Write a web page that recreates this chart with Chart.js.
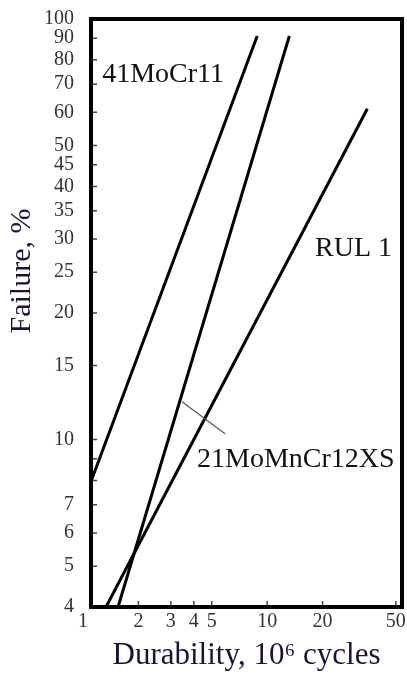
<!DOCTYPE html>
<html>
<head>
<meta charset="utf-8">
<script src="https://cdn.jsdelivr.net/npm/chart.js@4.4.1/dist/chart.umd.min.js"></script>
<style>
html, body { margin: 0; padding: 0; background: #fff; }
#wrap { width: 407px; height: 675px; }
</style>
</head>
<body>
<div id="wrap"><canvas id="myChart" width="407" height="675"></canvas></div>
<script>
// values (log-log paper)
const seriesNames = ['41MoCr11', '21MoMnCr12XS', 'RUL 1'];
const durability41 = [1.105, 8.83];
const failure41 = [7.95, 91.1];
const durability21 = [1.55, 13.2];
const failure21 = [4, 91.1];
const durabilityRul = [1.333, 35.0];
const failureRul = [4, 61.2];

// tick labels
const xTicks = [1, 2, 3, 4, 5, 10, 20, 50];
const yTicks = [4, 5, 6, 7, 8, 9, 10, 15, 20, 25, 30, 35, 40, 45, 50, 60, 70, 80, 90, 100];
const yLabeled = [4, 5, 6, 7, 10, 15, 20, 25, 30, 35, 40, 45, 50, 60, 70, 80, 90, 100];

// text on the plot, in data units
const labelTexts = ['41MoCr11', 'RUL 1', '21MoMnCr12XS'];
const labelX = [1.27, 18.2, 4.16];
const labelY = [73.6, 28.4, 8.97];
const leaderX = [3.45, 5.91];
const leaderY = [12.3, 10.33];

const serif = 'Liberation Serif, Times New Roman, serif';

function pts(xs, ys) {
    return xs.map((v, i) => ({x: v, y: ys[i]}));
}

const extrasPlugin = {
    id: 'extras',
    afterDraw(chart) {
        const ctx = chart.ctx;
        const a = chart.chartArea;
        const xs = chart.scales.x;
        const ys = chart.scales.y;
        ctx.save();
        // 内向きの目盛り
        ctx.strokeStyle = '#444';
        ctx.lineWidth = 1.5;
        ctx.beginPath();
        xs.ticks.forEach(t => {
            const px = xs.getPixelForValue(t.value);
            if (px < a.left + 3 || px > a.right - 3) return;
            ctx.moveTo(px, a.bottom);
            ctx.lineTo(px, a.bottom - 6);
        });
        ys.ticks.forEach(t => {
            const py = ys.getPixelForValue(t.value);
            if (py < a.top + 3 || py > a.bottom - 3) return;
            ctx.moveTo(a.left, py);
            ctx.lineTo(a.left + 6, py);
        });
        ctx.stroke();

        // leader line for 21MoMnCr12XS
        ctx.strokeStyle = '#555';
        ctx.lineWidth = 1.2;
        ctx.beginPath();
        ctx.moveTo(xs.getPixelForValue(leaderX[0]), ys.getPixelForValue(leaderY[0]));
        ctx.lineTo(xs.getPixelForValue(leaderX[1]), ys.getPixelForValue(leaderY[1]));
        ctx.stroke();

        // labels
        ctx.fillStyle = '#111';
        ctx.font = '28px ' + serif;
        ctx.textAlign = 'left';
        ctx.textBaseline = 'middle';
        labelTexts.forEach((s, i) => {
            ctx.fillText(s, xs.getPixelForValue(labelX[i]), ys.getPixelForValue(labelY[i]));
        });

        // y title
        ctx.save();
        ctx.translate(22, 271);
        ctx.rotate(-Math.PI / 2);
        ctx.font = '30px ' + serif;
        ctx.fillStyle = '#14143a';
        ctx.textAlign = 'center';
        ctx.fillText('Failure, %', 0, 0);
        ctx.restore();

        // frame
        ctx.strokeStyle = '#000';
        ctx.lineWidth = 4;
        ctx.strokeRect(a.left, a.top, a.right - a.left, a.bottom - a.top);
        ctx.restore();
    }
};

window.onload = function() {
    const ctx = document.getElementById('myChart').getContext('2d');
    const lineStyle = {
        showLine: true,
        borderColor: '#000',
        borderWidth: 3,
        pointRadius: 0,
        fill: false
    };
    new Chart(ctx, {
        type: 'scatter',
        data: {
            datasets: [
                Object.assign({label: seriesNames[0], data: pts(durability41, failure41)}, lineStyle),
                Object.assign({label: seriesNames[1], data: pts(durability21, failure21)}, lineStyle),
                Object.assign({label: seriesNames[2], data: pts(durabilityRul, failureRul)}, lineStyle)
            ]
        },
        options: {
            responsive: false,
            animation: false,
            layout: {padding: {top: 19, right: 5, left: 0, bottom: 0}},
            plugins: {
                legend: {display: false},
                tooltip: {enabled: false}
            },
            scales: {
                x: {
                    type: 'logarithmic',
                    min: 1.105,
                    max: 54,
                    afterBuildTicks: s => { s.ticks = xTicks.map(v => ({value: v})); },
                    afterFit: s => { s.height = 68; s.paddingLeft = 0; s.paddingRight = 0; },
                    grid: {display: false, drawTicks: false},
                    border: {display: false},
                    ticks: {
                        autoSkip: false,
                        maxRotation: 0,
                        padding: 3,
                        color: '#333',
                        font: {family: serif, size: 20},
                        callback: v => String(v)
                    },
                    title: {
                        display: true,
                        text: 'Durability, 10\u2076 cycles',
                        color: '#14143a',
                        font: {family: serif, size: 31},
                        padding: {top: 0, bottom: 1}
                    }
                },
                y: {
                    type: 'logarithmic',
                    min: 4,
                    max: 100,
                    afterBuildTicks: s => { s.ticks = yTicks.map(v => ({value: v})); },
                    afterFit: s => { s.width = 91; s.paddingTop = 0; s.paddingBottom = 0; },
                    grid: {display: false, drawTicks: false},
                    border: {display: false},
                    ticks: {
                        autoSkip: false,
                        padding: 17,
                        color: '#333',
                        font: {family: serif, size: 20},
                        callback: v => yLabeled.includes(v) ? String(v) : ''
                    }
                }
            }
        },
        plugins: [extrasPlugin]
    });
};
</script>
</body>
</html>
